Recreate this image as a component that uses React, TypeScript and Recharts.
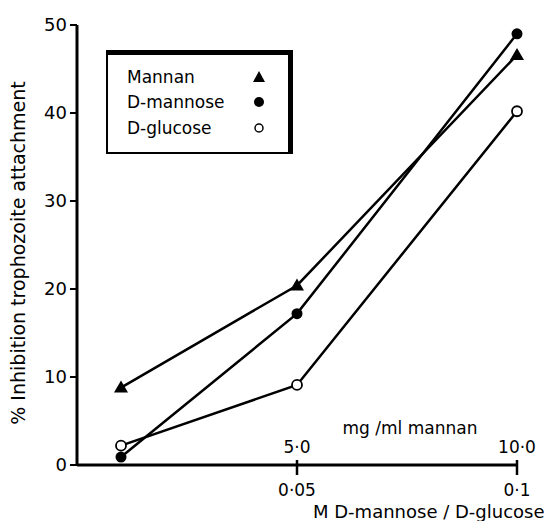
import React from "react";
import { LineChart, Line, XAxis, YAxis, Label } from "recharts";

// molar concentration of the sugars (x positions)
const concM = [0.01, 0.05, 0.1];
const mannan = [8.8, 20.4, 46.6];
const dMannose = [0.9, 17.2, 49.0];
const dGlucose = [2.2, 9.1, 40.2];

const xTicks = [0.05, 0.1];
const xTickLabels = ["0·05", "0·1"];
const mannanTickLabels = ["5·0", "10·0"];
const yTicks = [0, 10, 20, 30, 40, 50];

const data = concM.map((c, i) => ({
  conc: c,
  mannan: mannan[i],
  dMannose: dMannose[i],
  dGlucose: dGlucose[i],
}));

const FONT = "'DejaVu Sans', sans-serif";

const TriangleDot = (props: any) => {
  const { cx, cy } = props;
  if (cx == null || cy == null) return null;
  return <polygon points={`${cx},${cy - 7} ${cx + 7},${cy + 5} ${cx - 7},${cy + 5}`} fill="#000" />;
};

const FilledDot = (props: any) => {
  const { cx, cy } = props;
  if (cx == null || cy == null) return null;
  return <circle cx={cx} cy={cy} r={5.5} fill="#000" />;
};

const OpenDot = (props: any) => {
  const { cx, cy } = props;
  if (cx == null || cy == null) return null;
  return <circle cx={cx} cy={cy} r={5} fill="#fff" stroke="#000" strokeWidth={1.8} />;
};

const XTick = (props: any) => {
  const { x, y, payload } = props;
  const idx = xTicks.indexOf(payload.value);
  return (
    <g>
      <line x1={x} x2={x} y1={y - 5} y2={y + 10} stroke="#000" strokeWidth={2.5} />
      <text x={x} y={y - 12} textAnchor="middle" fontSize={17} fontFamily={FONT} fill="#000">
        {mannanTickLabels[idx]}
      </text>
      <text x={x} y={y + 31} textAnchor="middle" fontSize={17} fontFamily={FONT} fill="#000">
        {xTickLabels[idx]}
      </text>
    </g>
  );
};

const LegendBox = () => {
  const rows = [
    { name: "Mannan", dot: <polygon points="7,1 13,12 1,12" fill="#000" /> },
    { name: "D-mannose", dot: <circle cx={7} cy={7} r={5} fill="#000" /> },
    { name: "D-glucose", dot: <circle cx={7} cy={7} r={4} fill="#fff" stroke="#000" strokeWidth={1.5} /> },
  ];
  return (
    <div
      style={{
        position: "absolute",
        left: 106,
        top: 50,
        width: 187,
        height: 104,
        boxSizing: "border-box",
        borderTop: "5px solid #000",
        borderRight: "5px solid #000",
        borderLeft: "2px solid #000",
        borderBottom: "2px solid #000",
        background: "#fff",
        paddingTop: 9,
        paddingLeft: 19,
        fontFamily: FONT,
        fontSize: 17,
        color: "#000",
      }}
    >
      {rows.map((r) => (
        <div key={r.name} style={{ display: "flex", alignItems: "center", height: 25.5 }}>
          <span style={{ width: 125 }}>{r.name}</span>
          <svg width={14} height={14}>{r.dot}</svg>
        </div>
      ))}
    </div>
  );
};

export default function App() {
  return (
    <div style={{ position: "absolute", left: 0, top: 0, width: 551, height: 521, background: "#fff" }}>
      <LineChart
        width={551}
        height={521}
        data={data}
        margin={{ top: 25, right: 34, bottom: 26, left: 17 }}
      >
        <XAxis
          dataKey="conc"
          type="number"
          domain={[0, 0.1]}
          ticks={xTicks}
          height={30}
          tickSize={0}
          tickMargin={0}
          tickLine={false}
          tick={<XTick />}
          axisLine={{ stroke: "#000", strokeWidth: 3 }}
        >
          <Label
            content={() => (
              <g fontFamily={FONT} fontSize={17} fill="#000">
                <text x={410} y={434} textAnchor="middle">mg /ml mannan</text>
                <text x={313} y={518} fontSize={18}>M  D-mannose / D-glucose</text>
              </g>
            )}
          />
        </XAxis>
        <YAxis
          type="number"
          domain={[0, 50]}
          ticks={yTicks}
          width={60}
          tickSize={7}
          tickMargin={3}
          tick={{ fill: "#000", fontSize: 18, fontFamily: FONT }}
          tickLine={{ stroke: "#000", strokeWidth: 2 }}
          axisLine={{ stroke: "#000", strokeWidth: 3 }}
        >
          <Label
            content={() => (
              <text
                x={25}
                y={253}
                transform="rotate(-90 25 253)"
                textAnchor="middle"
                fontFamily={FONT}
                fontSize={19}
                fill="#000"
              >
                % Inhibition trophozoite attachment
              </text>
            )}
          />
        </YAxis>
        <Line dataKey="mannan" type="linear" stroke="#000" strokeWidth={2.5} dot={<TriangleDot />} activeDot={false} isAnimationActive={false} />
        <Line dataKey="dMannose" type="linear" stroke="#000" strokeWidth={2.5} dot={<FilledDot />} activeDot={false} isAnimationActive={false} />
        <Line dataKey="dGlucose" type="linear" stroke="#000" strokeWidth={2.5} dot={<OpenDot />} activeDot={false} isAnimationActive={false} />
      </LineChart>
      <LegendBox />
    </div>
  );
}
